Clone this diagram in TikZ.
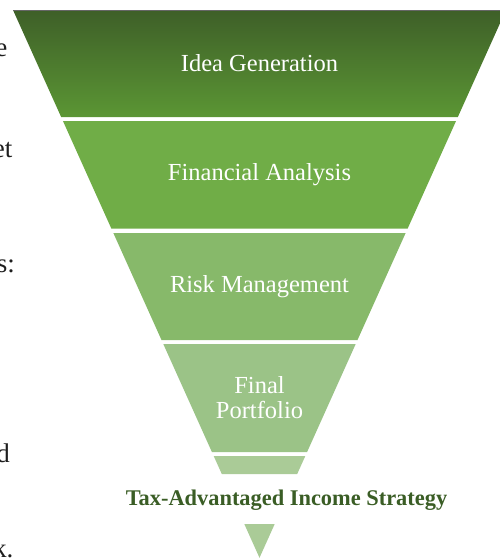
\documentclass[tikz,border=0pt]{standalone}
\usepackage{fontspec}
\setmainfont{Liberation Serif}
\usetikzlibrary{calc}
\definecolor{gtop}{HTML}{3E5F28}
\definecolor{gmid}{HTML}{64A13D}
\definecolor{gbot}{HTML}{5B9634}
\definecolor{bandtwo}{HTML}{70AD47}
\definecolor{bandthree}{HTML}{87B96A}
\definecolor{bandfour}{HTML}{9BC387}
\definecolor{bandfive}{HTML}{AACB97}
\definecolor{titlegreen}{HTML}{3A5D25}
\definecolor{bodytext}{HTML}{1E1E1E}
\newcommand\funnelband[3]{%
  \pgfmathsetmacro\ta{(#1-10)/547.8}%
  \pgfmathsetmacro\tb{(#2-10)/547.8}%
  \path[#3] ($(L)!\ta!(A)$) -- ($(R)!\ta!(A)$) -- ($(R)!\tb!(A)$) -- ($(L)!\tb!(A)$) -- cycle;}
\begin{document}
\begin{tikzpicture}[x=1pt,y=-1pt,
  label/.style={text=white,font=\fontsize{24.5}{25}\selectfont,align=center,inner sep=0pt},
  frag/.style={text=bodytext,font=\fontsize{27}{32}\selectfont,anchor=base east,inner sep=0pt},
  titletext/.style={text=titlegreen,font=\bfseries\fontsize{22.4}{27}\selectfont,inner sep=0pt}]
\useasboundingbox (0,0) rectangle (500,558);
\coordinate (L) at (13,10);
\coordinate (R) at (506,10);
\coordinate (A) at (259.5,557.8);
% left text fragments
\node[frag] (f1) at (7.5,56) {e};
\node[frag] (f2) at (12.5,157) {et};
\node[frag] (f3) at (15,272) {s:};
\node[frag] (f4) at (10,462) {d};
\node[frag] (f5) at (13.5,557) {k.};
% funnel bands
\funnelband{10}{117}{shade,top color=gtop,middle color=gmid,bottom color=gbot}
\draw[gray!80!black,line width=0.8pt] (L) -- (R);
\funnelband{121}{228.5}{fill=bandtwo}
\funnelband{233}{340}{fill=bandthree}
\funnelband{344}{452}{fill=bandfour}
\funnelband{456}{474}{fill=bandfive}
\funnelband{524}{557.8}{fill=bandfive}
% labels
\node[label] (idea) at (259.5,63.5) {Idea Generation};
\node[label] (fin) at (259.5,175) {Financial Analysis};
\node[label] (risk) at (259.5,286.5) {Risk Management};
\node[label] (port) at (259.5,398) {Final\\Portfolio};
\node[titletext] (title) at (286.5,500) {Tax-Advantaged Income Strategy};
\end{tikzpicture}
\end{document}
